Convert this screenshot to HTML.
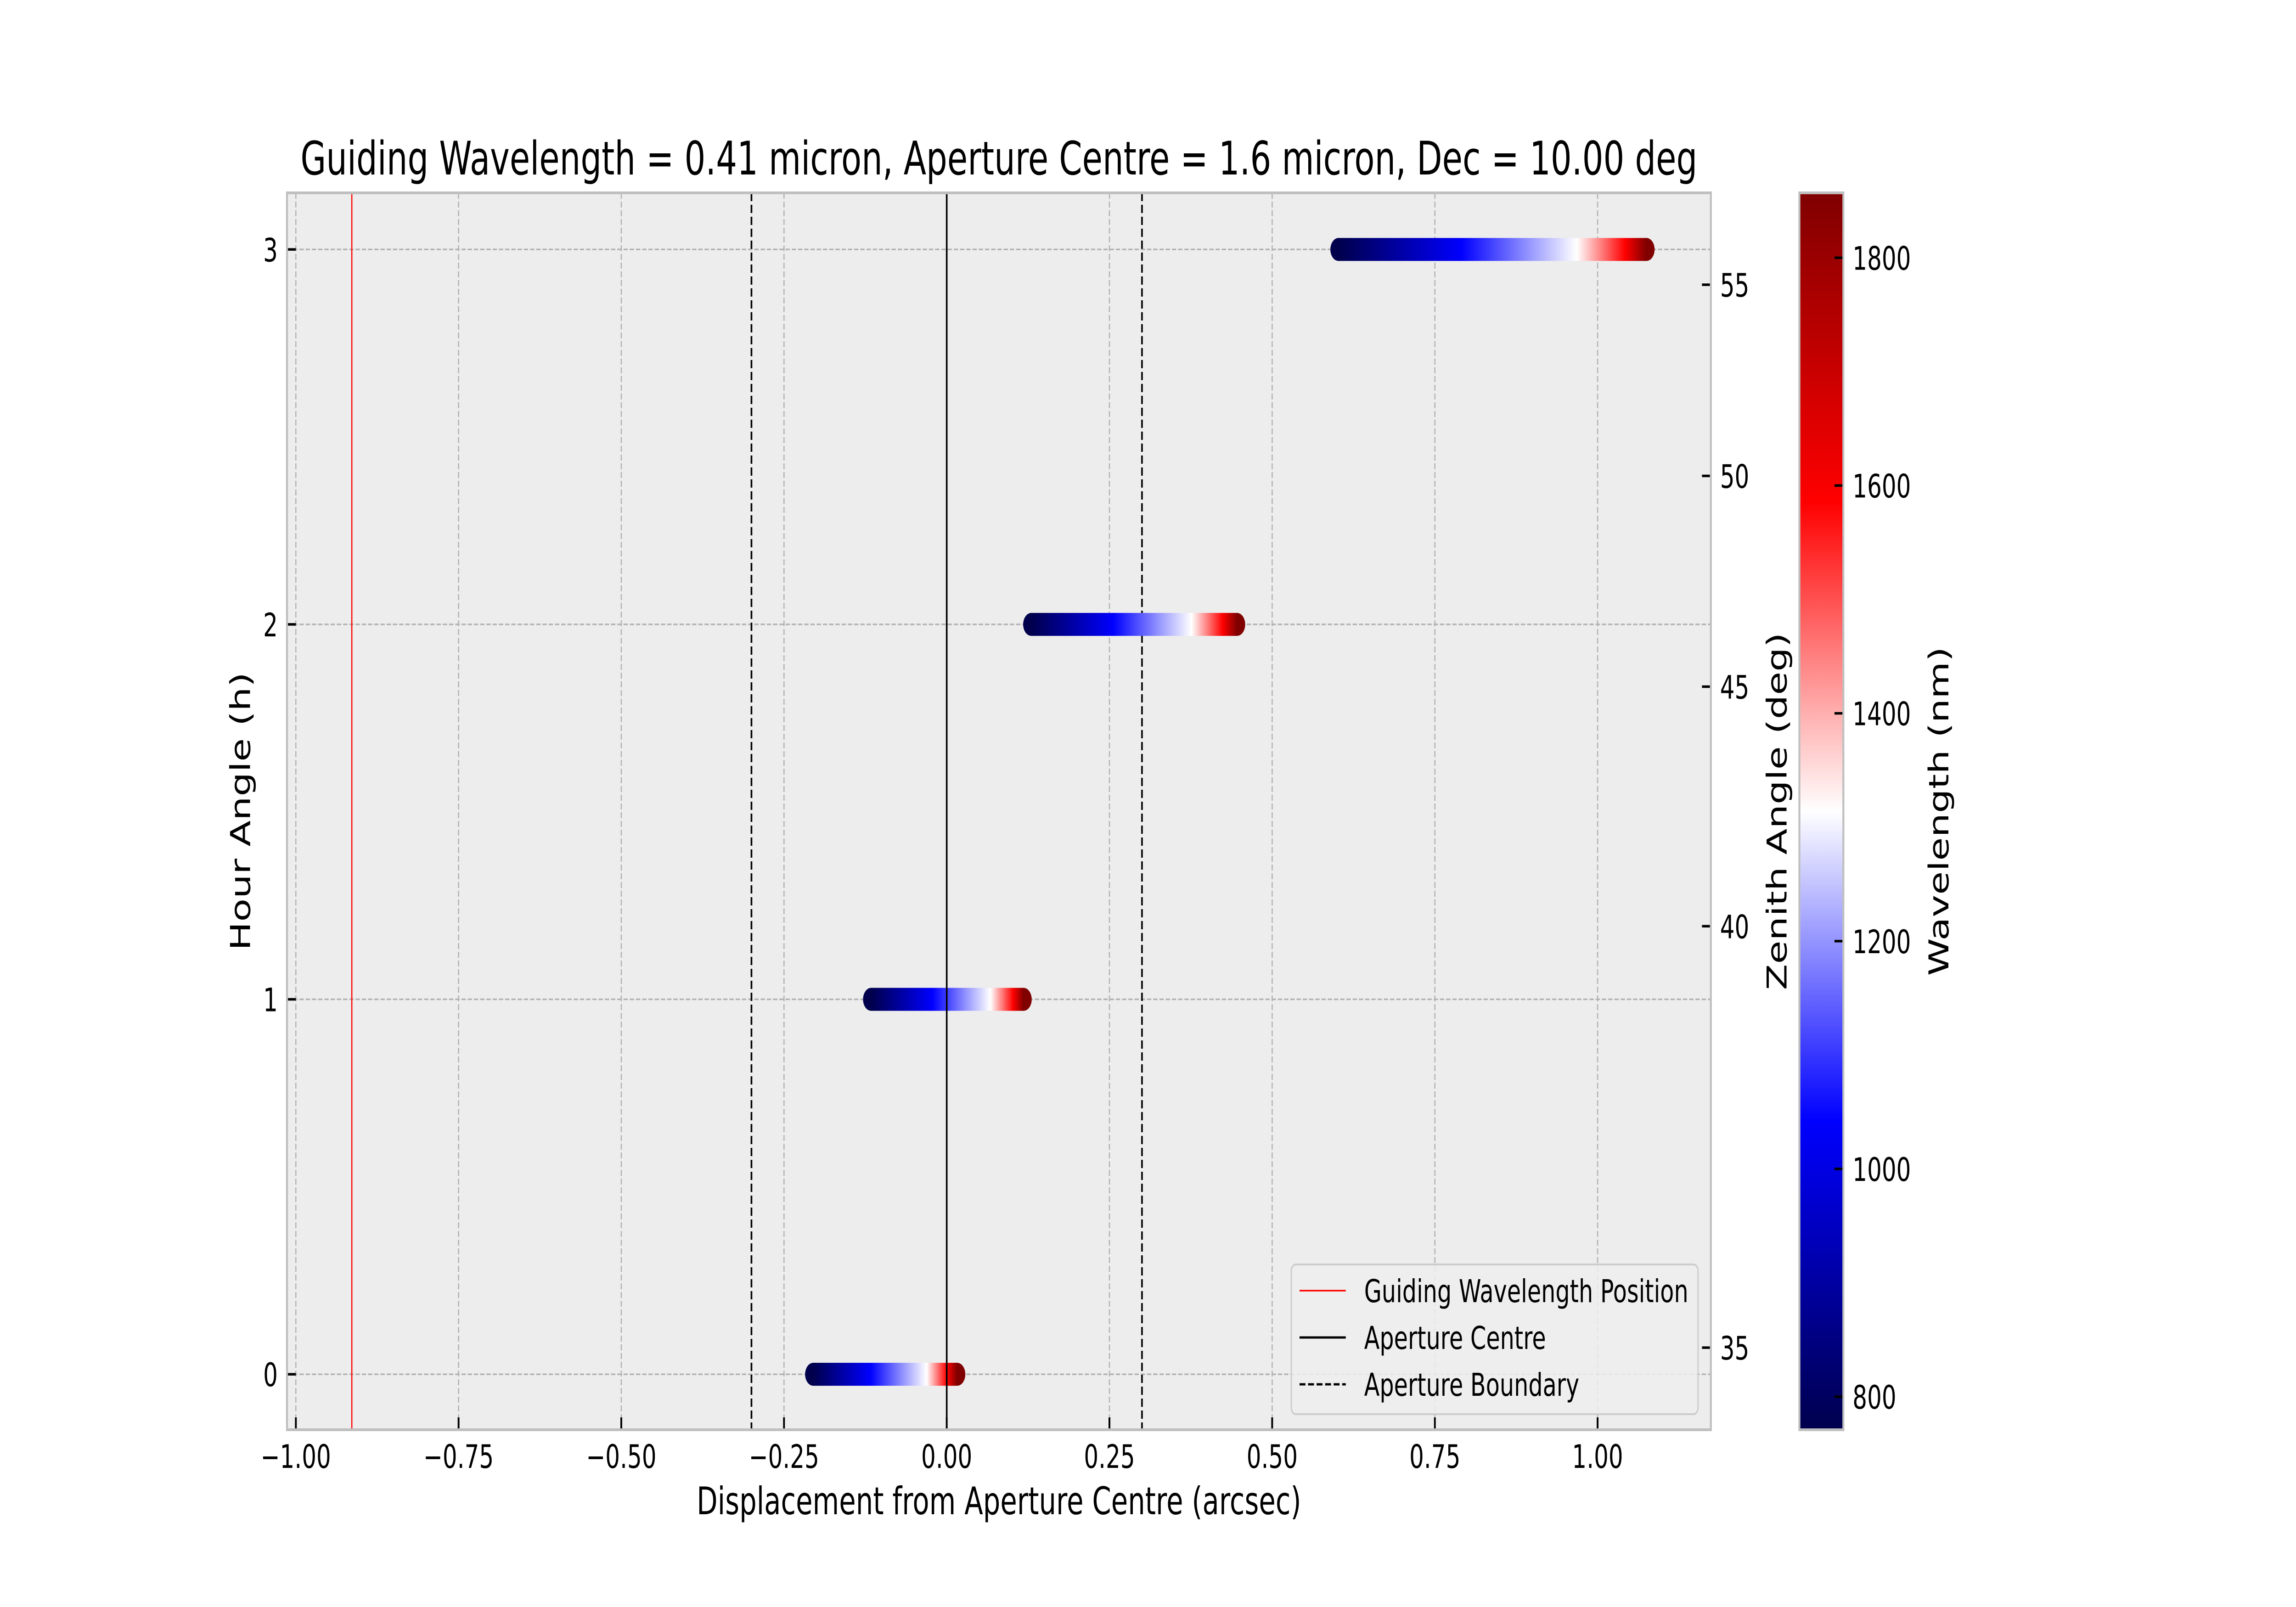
<!DOCTYPE html>
<html><head><meta charset="utf-8">
<style>
html,body{margin:0;padding:0;background:#fff;width:100%;height:100%;overflow:hidden;}
svg{display:block;width:100vw;height:100vh;}
text{font-family:"DejaVu Sans","Liberation Sans",sans-serif;fill:#000;}
</style></head>
<body>
<svg id="chart" viewBox="0 0 7000 3500" preserveAspectRatio="none" xmlns="http://www.w3.org/2000/svg">
<defs id="defs"></defs>
<rect x="0" y="0" width="7000" height="3500" fill="#fff"/>
<g id="plot"></g>
</svg>
<script>
// ---- data ----
const hourAngles = [0, 1, 2, 3];
const wavelengths = [771, 1042, 1314, 1585, 1857];
const dispHA0 = [-0.205, -0.117, -0.031, 0.000, 0.016];
const dispHA1 = [-0.116, -0.022, 0.067, 0.102, 0.118];
const dispHA2 = [0.130, 0.256, 0.376, 0.424, 0.446];
const dispHA3 = [0.602, 0.791, 0.968, 1.042, 1.075];
const xTicks = [-1.00, -0.75, -0.50, -0.25, 0.00, 0.25, 0.50, 0.75, 1.00];
const xTickLabels = ["\u22121.00", "\u22120.75", "\u22120.50", "\u22120.25", "0.00", "0.25", "0.50", "0.75", "1.00"];
const yTicks = [0, 1, 2, 3];
const zenithTickLabels = [35, 40, 45, 50, 55];
const zenithTickHA = [0.071, 1.195, 1.834, 2.396, 2.906];
const cbarTicks = [800, 1000, 1200, 1400, 1600, 1800];
const guidePos = [-0.914];
const apertureCentre = [0.0];
const apertureBounds = [-0.3, 0.3];
const cbarRange = [771, 1857];

// ---- layout ----
const AX = {l: 875, r: 5216, t: 420, b: 3114};
const XR = [-1.0136, 1.174], YR = [-0.148, 3.151];
const CB = {l: 5486, r: 5620, t: 420, b: 3114};
const xs = v => AX.l + (v - XR[0]) / (XR[1] - XR[0]) * (AX.r - AX.l);
const ys = v => AX.b - (v - YR[0]) / (YR[1] - YR[0]) * (AX.b - AX.t);
const cs = v => CB.b - (v - cbarRange[0]) / (cbarRange[1] - cbarRange[0]) * (CB.b - CB.t);

const NS = "http://www.w3.org/2000/svg";
const plot = document.getElementById('plot');
const defs = document.getElementById('defs');
function mk(tag, attrs, parent) {
  const e = document.createElementNS(NS, tag);
  for (const k in attrs) e.setAttribute(k, attrs[k]);
  (parent || plot).appendChild(e);
  return e;
}
function seismic(t) {
  t = Math.max(0, Math.min(1, t));
  const st = [[0,[0,0,76.5]],[0.25,[0,0,255]],[0.5,[255,255,255]],[0.75,[255,0,0]],[1,[127.5,0,0]]];
  for (let i = 0; i < st.length - 1; i++) {
    if (t <= st[i+1][0]) {
      const f = (t - st[i][0]) / (st[i+1][0] - st[i][0]);
      const c = st[i][1].map((a, j) => Math.round(a + (st[i+1][1][j] - a) * f));
      return `rgb(${c[0]},${c[1]},${c[2]})`;
    }
  }
  return 'rgb(127,0,0)';
}
const wl2t = w => (w - cbarRange[0]) / (cbarRange[1] - cbarRange[0]);

const bg = mk('rect', {x: AX.l, y: AX.t, width: AX.r - AX.l, height: AX.b - AX.t, fill: '#ededed'});



xTicks.forEach((v, i) => {
  const g = mk('line', {x1: xs(v), x2: xs(v), y1: AX.t, y2: AX.b, stroke: '#b2b2b2', 'stroke-width': 3.5, 'stroke-dasharray': '13,6'});
  
  
});
yTicks.forEach(v => {
  const g = mk('line', {x1: AX.l, x2: AX.r, y1: ys(v), y2: ys(v), stroke: '#b2b2b2', 'stroke-width': 3.5, 'stroke-dasharray': '13,6'});
  
  
});

guidePos.forEach(v => {
  const l = mk('line', {x1: xs(v), x2: xs(v), y1: AX.t, y2: AX.b, stroke: '#ff0000', 'stroke-width': 3.5});
  
  
});
apertureBounds.forEach(v => {
  const l = mk('line', {x1: xs(v), x2: xs(v), y1: AX.t, y2: AX.b, stroke: '#000', 'stroke-width': 5, 'stroke-dasharray': '18,8'});
  
  
});

const tracks = [dispHA0, dispHA1, dispHA2, dispHA3];
const R = 25;
tracks.forEach((disp, ti) => {
  const y = ys(hourAngles[ti]);
  const x0 = xs(disp[0]), x1 = xs(disp[disp.length - 1]);
  const gid = 'trk' + ti;
  const lg = mk('linearGradient', {id: gid, gradientUnits: 'userSpaceOnUse', x1: x0, y1: 0, x2: x1, y2: 0}, defs);
  for (let i = 0; i < wavelengths.length - 1; i++) {
    for (let k = 0; k < 12; k++) {
      const f = k / 12;
      const d = disp[i] + (disp[i+1] - disp[i]) * f;
      const w = wavelengths[i] + (wavelengths[i+1] - wavelengths[i]) * f;
      mk('stop', {offset: (xs(d) - x0) / (x1 - x0), 'stop-color': seismic(wl2t(w))}, lg);
    }
  }
  mk('stop', {offset: 1, 'stop-color': seismic(1)}, lg);
  const g = mk('g', {});
  
  
  mk('circle', {cx: x0, cy: y, r: R, fill: seismic(wl2t(wavelengths[0]))}, g);
  mk('circle', {cx: x1, cy: y, r: R, fill: seismic(wl2t(wavelengths[wavelengths.length - 1]))}, g);
  mk('rect', {x: x0, y: y - R, width: x1 - x0, height: 2 * R, fill: `url(#${gid})`}, g);
});

apertureCentre.forEach(v => {
  const l = mk('line', {x1: xs(v), x2: xs(v), y1: AX.t, y2: AX.b, stroke: '#000', 'stroke-width': 5});
  
  
});

const sp = mk('rect', {x: AX.l, y: AX.t, width: AX.r - AX.l, height: AX.b - AX.t, fill: 'none', stroke: '#bfbfbf', 'stroke-width': 6});



xTicks.forEach((v, i) => {
  const t = mk('line', {x1: xs(v), x2: xs(v), y1: AX.b - 3, y2: AX.b - 27, stroke: '#000', 'stroke-width': 5.5});
  
  
  const lb = mk('text', {x: xs(v), y: AX.b + 83, 'font-size': 70, 'text-anchor': 'middle'});
  lb.textContent = xTickLabels[i];
  
  
});
yTicks.forEach(v => {
  const t = mk('line', {x1: AX.l + 3, x2: AX.l + 27, y1: ys(v), y2: ys(v), stroke: '#000', 'stroke-width': 5.5});
  
  
  const lb = mk('text', {x: AX.l - 28, y: ys(v) + 26, 'font-size': 70, 'text-anchor': 'end'});
  lb.textContent = String(v);
  
  
});
zenithTickLabels.forEach((v, i) => {
  const y = ys(zenithTickHA[i]);
  const t = mk('line', {x1: AX.r - 3, x2: AX.r - 27, y1: y, y2: y, stroke: '#000', 'stroke-width': 5.5});
  
  
  const lb = mk('text', {x: AX.r + 28, y: y + 26, 'font-size': 70});
  lb.textContent = String(v);
  
  
});

const lgG = mk('g', {});


mk('rect', {x: 3937, y: 2754, width: 1240, height: 326, rx: 14, fill: '#ededed', 'fill-opacity': 0.85, stroke: '#cccccc', 'stroke-width': 4}, lgG);
const legendItems = [
  ['Guiding Wavelength Position', '#ff0000', 3.5, null, 2811],
  ['Aperture Centre', '#000', 5, null, 2913],
  ['Aperture Boundary', '#000', 5, '18,8', 3015]
];
legendItems.forEach(it => {
  const e = mk('g', {}, lgG);
  
  
  const a = {x1: 3962, x2: 4103, y1: it[4], y2: it[4], stroke: it[1], 'stroke-width': it[2]};
  if (it[3]) a['stroke-dasharray'] = it[3];
  mk('line', a, e);
  const t = mk('text', {x: 4159, y: it[4] + 25, 'font-size': 69}, e);
  t.textContent = it[0];
});

const cg = mk('linearGradient', {id: 'cbg', x1: 0, y1: 1, x2: 0, y2: 0}, defs);
for (let k = 0; k <= 40; k++) mk('stop', {offset: k / 40, 'stop-color': seismic(k / 40)}, cg);
const cbr = mk('rect', {x: CB.l, y: CB.t, width: CB.r - CB.l, height: CB.b - CB.t, fill: 'url(#cbg)', stroke: '#bfbfbf', 'stroke-width': 6});


cbarTicks.forEach(v => {
  const y = cs(v);
  const t = mk('line', {x1: CB.r - 3, x2: CB.r - 27, y1: y, y2: y, stroke: '#000', 'stroke-width': 5.5});
  
  
  const lb = mk('text', {x: CB.r + 28, y: y + 26, 'font-size': 70});
  lb.textContent = String(v);
  
  
});

function label(txt, x, y, size, rot, name) {
  const t = mk('text', {x: x, y: y, 'font-size': size, 'text-anchor': 'middle'});
  if (rot) t.setAttribute('transform', `rotate(-90 ${x} ${y})`);
  t.textContent = txt;
  
  
}
label('Guiding Wavelength = 0.41 micron, Aperture Centre = 1.6 micron, Dec = 10.00 deg', (AX.l + AX.r) / 2, 380, 101, false, 'chart-title');
label('Displacement from Aperture Centre (arcsec)', (AX.l + AX.r) / 2, 3298, 83, false, 'x-axis-title');
label('Hour Angle (h)', 762, (AX.t + AX.b) / 2, 83, true, 'y-axis-title');
label('Zenith Angle (deg)', 5447, (AX.t + AX.b) / 2, 83, true, 'zenith-axis-title');
label('Wavelength (nm)', 5940, (CB.t + CB.b) / 2, 83, true, 'colorbar-title');
</script>
</body></html>
